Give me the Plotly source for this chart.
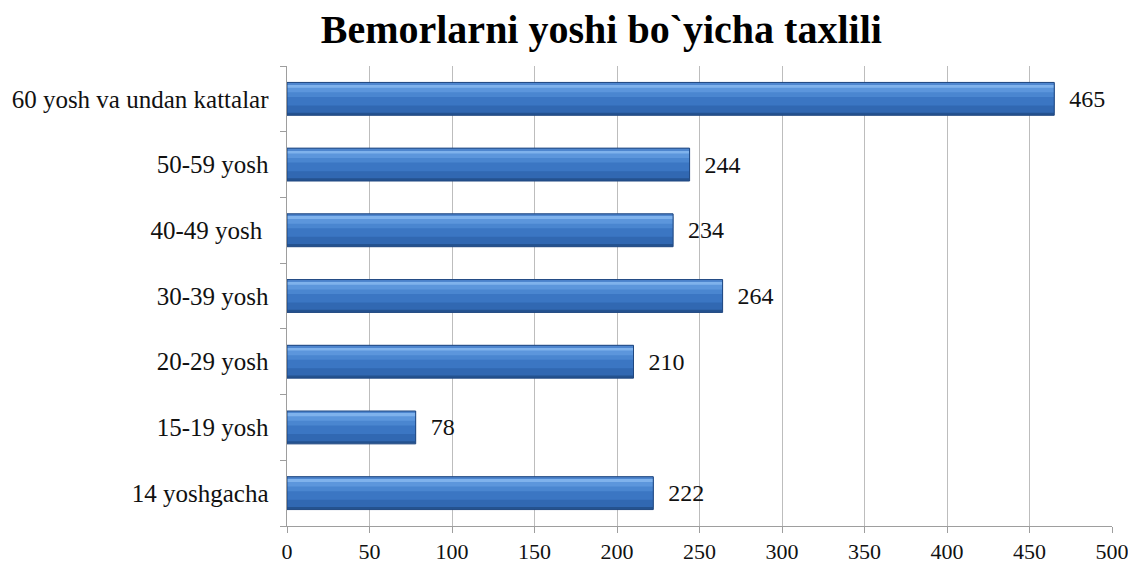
import plotly.graph_objects as go

categories = ["14 yoshgacha", "15-19 yosh", "20-29 yosh", "30-39 yosh",
              "40-49 yosh ", "50-59 yosh", "60 yosh va undan kattalar"]
values = [222, 78, 210, 264, 234, 244, 465]
x_ticks = [0, 50, 100, 150, 200, 250, 300, 350, 400, 450, 500]

font_serif = "Liberation Serif, Times New Roman, serif"

fig = go.Figure()
# layered bars to imitate the 3D gradient look: (offset, width, colour)
layers = [
    (-0.25, 0.50, "#24528F"),
    (-0.21, 0.44, "#3168B2"),
    (-0.10, 0.31, "#3B76C3"),
    (0.03, 0.17, "#4A86D0"),
    (0.10, 0.10, "#5C96DC"),
    (0.17, 0.05, "#7FB2EC"),
    (0.22, 0.03, "#4E86CF"),
]
for off, w, col in layers:
    fig.add_trace(go.Bar(
        y=categories, x=values, orientation="h", width=w, offset=off,
        marker=dict(color=col, line=dict(width=0)),
        hoverinfo="skip", showlegend=False,
    ))
# outline + value labels
fig.add_trace(go.Bar(
    y=categories, x=values, orientation="h", width=0.5, offset=-0.25,
    marker=dict(color="rgba(0,0,0,0)", line=dict(color="#1F4780", width=1)),
    text=[str(v) for v in values], textposition="outside",
    texttemplate="  %{text}",
    textfont=dict(family=font_serif, size=24, color="#111111"),
    cliponaxis=False, hoverinfo="skip", showlegend=False,
))

fig.update_layout(
    width=1128, height=558,
    paper_bgcolor="white", plot_bgcolor="white",
    margin=dict(l=279, r=24, t=58, b=40),
    barmode="overlay",
    title=dict(text="<b>Bemorlarni yoshi bo`yicha taxlili</b>",
               x=0.526, xanchor="center", y=0.962, yanchor="middle",
               font=dict(family=font_serif, size=40, color="#000000")),
    font=dict(family=font_serif, size=22, color="#111111"),
)
fig.update_xaxes(
    range=[0, 500], tickvals=x_ticks, ticktext=[str(t) for t in x_ticks],
    showgrid=True, gridcolor="#BDBDBD", gridwidth=1,
    showline=True, linecolor="#9E9E9E", linewidth=1,
    ticks="outside", ticklen=6, tickcolor="#9E9E9E",
    tickfont=dict(family=font_serif, size=22, color="#111111"),
    zeroline=False, automargin=False,
)
fig.update_yaxes(
    categoryorder="array", categoryarray=categories,
    showline=True, linecolor="#9E9E9E", linewidth=1,
    ticks="outside", ticklen=6, tickcolor="#9E9E9E", tickson="boundaries",
    tickfont=dict(family=font_serif, size=25, color="#111111"),
    showgrid=False, ticksuffix="  ", automargin=False,
)

fig.write_html("out.html")
